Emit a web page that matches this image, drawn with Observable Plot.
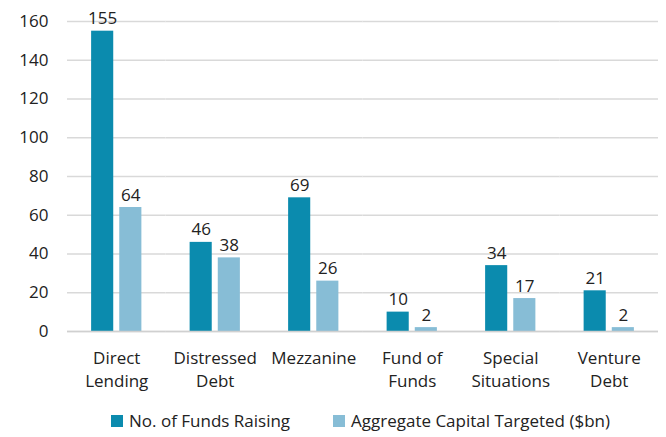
<!DOCTYPE html>
<html><head><meta charset="utf-8">
<script src="https://cdn.jsdelivr.net/npm/d3@7"></script>
<script src="https://cdn.jsdelivr.net/npm/@observablehq/plot@0.6"></script>
<style>
body{margin:0;background:#fff;font-family:"Open Sans",sans-serif;}
#legend{font-size:17px;color:#222;height:34px;position:relative}
.sw{display:inline-block;width:12px;height:12px;margin-right:6px}
.item{display:flex;align-items:center;position:absolute;white-space:nowrap}
</style></head>
<body>
<div id="chart"></div>
<div id="legend"></div>
<script>
const categories = ["Direct\nLending","Distressed\nDebt","Mezzanine","Fund of\nFunds","Special\nSituations","Venture\nDebt"];
const seriesNames = ["No. of Funds Raising","Aggregate Capital Targeted ($bn)"];
const funds = [155,46,69,10,34,21];
const capital = [64,38,26,2,17,2];
const yTicks = [0,20,40,60,80,100,120,140,160];
const colors = ["#0b8bae","#87bdd6"];

const data = [];
categories.forEach((c,i)=>{
  data.push({cat:c, series:seriesNames[0], value:funds[i]});
  data.push({cat:c, series:seriesNames[1], value:capital[i]});
});

const plot = Plot.plot({
  width:666, height:405,
  marginLeft:67, marginRight:8, marginTop:21, marginBottom:74,
  style:{fontFamily:"Open Sans", fontSize:"17px", color:"#222", background:"#fff"},
  fx:{domain:categories, padding:0, label:null, round:false},
  x:{domain:seriesNames, axis:null, paddingInner:0.2143, paddingOuter:0.857, round:false},
  y:{domain:[0,160], ticks:yTicks, label:null},
  color:{domain:seriesNames, range:colors},
  marks:[
    Plot.gridY(yTicks, {stroke:"#d9d9d9", strokeOpacity:1, strokeWidth:1.5}),
    Plot.axisY(yTicks, {tickSize:0, tickPadding:19, label:null, fontSize:17, fill:"#222"}),
    Plot.axisFx({anchor:"bottom", tickSize:0, tickPadding:16, label:null, fontSize:17, lineHeight:1.37, fill:"#222"}),
    Plot.barY(data, {fx:"cat", x:"series", y:"value", fill:"series"}),
    Plot.ruleY([0], {stroke:"#d0d0d0", strokeWidth:1.5}),
    Plot.text(data, {fx:"cat", x:"series", y:"value", text:d=>String(d.value), dy:-7, lineAnchor:"bottom", fontSize:17, fill:"#222"})
  ]
});
document.getElementById("chart").appendChild(plot);

const lg = document.getElementById("legend");
const pos = [111, 333];
seriesNames.forEach((s,i)=>{
  const it = document.createElement("div");
  it.className="item";
  it.style.left = pos[i]+"px";
  it.style.top = "4px";
  it.innerHTML = `<span class="sw" style="background:${colors[i]}"></span><span></span>`;
  it.lastChild.textContent = s;
  lg.appendChild(it);
});
</script>
</body></html>
